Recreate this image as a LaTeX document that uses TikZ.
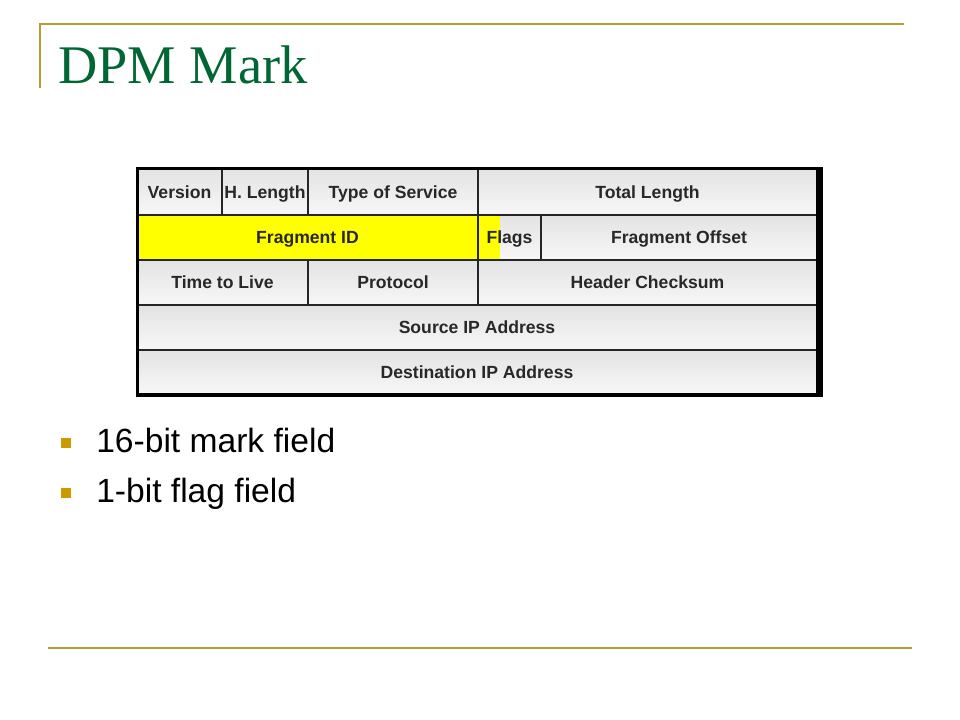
\documentclass[tikz,border=0pt]{standalone}
\usepackage{fontspec}
\setmainfont{Liberation Serif}
\setsansfont{Liberation Sans}
\definecolor{slidegold}{RGB}{185,155,50}
\definecolor{bulletgold}{RGB}{204,153,0}
\definecolor{titlegreen}{RGB}{0,102,51}
\definecolor{fieldtext}{RGB}{40,40,40}
\definecolor{markyellow}{RGB}{255,255,0}
\begin{document}
\begin{tikzpicture}[x=0.75pt, y=-0.75pt,
        field/.style={draw=black!85, line width=1.9pt, top color=black!11, bottom color=black!3},
        markfield/.style={draw=black!85, line width=1.9pt, fill=markyellow},
        fieldname/.style={font=\sffamily\bfseries\fontsize{13.2}{15}\selectfont, text=fieldtext, inner sep=0pt, text height=9.5pt, text depth=0pt},
        bullet/.style={fill=bulletgold, minimum size=8.2pt, inner sep=0pt},
        item/.style={font=\sffamily\fontsize{25.2}{29}\selectfont, anchor=base west, inner sep=0pt}]
        \useasboundingbox (0,0) rectangle (960,720);
        % slide frame
        \draw[slidegold, line width=2pt] (40,88) -- (40,24) -- (904,24);
        \draw[slidegold, line width=2pt] (48,648) -- (912,648);
        \node[font=\fontsize{40.8}{44}\selectfont, text=titlegreen, anchor=base west, inner sep=0pt] (title) at (58,84) {DPM Mark};
        % header fields
        \foreach \nm/\xa/\xb/\ya/\yb/\txt in {
            ver/137/222/169/215/Version, hlen/222/308/169/215/H. Length,
            tos/308/478/169/215/Type of Service, tlen/478/817/169/215/Total Length,
            ttl/137/308/260/305/Time to Live, proto/308/478/260/305/Protocol,
            csum/478/817/260/305/Header Checksum,
            src/137/817/305/350/Source IP Address, dst/137/817/350/394/Destination IP Address}{
                \path[field] (\xa,\ya) rectangle (\xb,\yb) node[midway, fieldname] (\nm) {\txt};
        }
        \path[markfield] (137,215) rectangle (478,260) node[midway, fieldname] (fid) {Fragment ID};
        \path[field] (478,215) rectangle (541,260);
        \fill[markyellow] (479,216) rectangle (500,259);
        \draw[black!85, line width=1.9pt] (478,215) rectangle (541,260);
        \node[fieldname] (flags) at (509.5,237.5) {Flags};
        \path[field] (541,215) rectangle (817,260) node[midway, fieldname] (foff) {Fragment Offset};
        % shadow border
        \fill[black] (135.5,167.5) rectangle (823,170.5);
        \fill[black] (135.5,167.5) rectangle (138.5,397);
        \fill[black] (816,167.5) rectangle (823,397);
        \fill[black] (135.5,392.5) rectangle (823,397);
        % bullets
        \node[bullet] (b1) at (66,443) {};
        \node[item] (t1) at (96,452) {16-bit mark field};
        \node[bullet] (b2) at (66,493) {};
        \node[item] (t2) at (96,502) {1-bit flag field};
\end{tikzpicture}
\end{document}
